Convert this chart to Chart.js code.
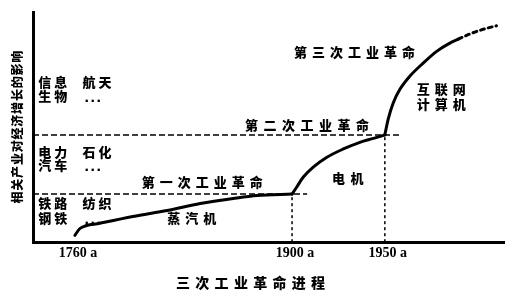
<!DOCTYPE html>
<html>
<head>
<meta charset="utf-8">
<script src="https://cdn.jsdelivr.net/npm/chart.js@4"></script>
<style>
  body { margin: 0; background: #fff; }
  #wrap { width: 514px; height: 299px; position: relative; }
</style>
</head>
<body>
<div id="wrap"><canvas id="chart"></canvas></div>
<script>
// x is a schematic "progress" axis (0-100), y is influence (0-100)
const tickLabels = ['1760 a', '1900 a', '1950 a'];
const tickPos = [8.9, 55.0, 74.7];

// steam engine era
const steamX = [8.9, 10.0, 14.2, 21.2, 28.5, 35.5, 42.5, 47.6, 55.0];
const steamY = [3.0, 6.0, 8.2, 11.2, 13.8, 16.8, 19.0, 20.3, 20.9];
// electric era
const electricX = [55.0, 56.0, 57.4, 59.5, 62.4, 65.9, 69.4, 72.3, 74.7];
const electricY = [20.9, 24.0, 28.3, 32.6, 36.9, 40.5, 43.4, 45.1, 46.6];
// information era
const infoX = [74.7, 75.4, 76.5, 77.9, 80.0, 82.9, 85.7, 88.5, 90.3];
const infoY = [46.6, 53.4, 60.6, 66.4, 72.1, 77.9, 82.9, 86.5, 88.2];
// future (dotted)
const futureX = [90.3, 92.8, 95.6, 98.4];
const futureY = [88.2, 90.5, 92.5, 94.0];

// levels reached at 1900 and 1950, and how far the dashed guide runs
const levelY = [20.9, 46.6];
const levelEndX = [58.2, 78.3];

const xTitle = '三次工业革命进程';
const yTitle = '相关产业对经济增长的影响';

const toPts = (xs, ys) => xs.map((x, i) => ({ x: x, y: ys[i] }));

function curve(xs, ys, dash) {
  return { data: toPts(xs, ys), borderColor: '#000', borderWidth: 3, borderDash: dash || [],
    pointRadius: 0, tension: 0.4, cubicInterpolationMode: 'monotone', borderCapStyle: 'round' };
}
function guide(pts, dash) {
  return { data: pts, borderColor: '#000', borderWidth: 1.5, borderDash: dash, pointRadius: 0, tension: 0 };
}

// text notes: [text, left x in data units, center y in data units, char pitch]
const notes = [
  ['信息', 1.1, 69.4, 16], ['航天', 10.5, 69.4, 16],
  ['生物', 1.1, 63.4, 16], ['...', 10.9, 62.5, 6],
  ['电力', 1.1, 39.2, 16], ['石化', 10.5, 39.2, 16],
  ['汽车', 1.1, 33.6, 16], ['...', 10.9, 32.3, 6],
  ['铁路', 1.1, 16.8, 16], ['纺织', 10.5, 16.8, 16],
  ['钢铁', 1.1, 10.3, 16], ['...', 10.9, 9.5, 6],
  ['第一次工业革命', 23.1, 26.3, 18],
  ['蒸汽机', 28.5, 10.3, 18],
  ['电机', 63.5, 28.0, 18.5],
  ['第二次工业革命', 45.0, 50.9, 18.5],
  ['第三次工业革命', 55.4, 82.8, 18],
  ['互联网', 81.5, 66.4, 18],
  ['计算机', 81.5, 59.9, 18]
];

function spaced(ctx, text, x, y, pitch) {
  for (let i = 0; i < text.length; i++) ctx.fillText(text[i], x + i * pitch, y);
}

const cjk = '"Noto Sans CJK SC"';

const textPlugin = {
  id: 'texts',
  afterDraw(chart) {
    const ctx = chart.ctx, xs = chart.scales.x, ys = chart.scales.y;
    ctx.save();
    ctx.fillStyle = '#000';
    ctx.textAlign = 'left';
    ctx.textBaseline = 'middle';
    notes.forEach(n => {
      ctx.font = n[0] === '...' ? 'bold 13px "DejaVu Sans"' : '900 13px ' + cjk;
      spaced(ctx, n[0], xs.getPixelForValue(n[1]), ys.getPixelForValue(n[2]), n[3]);
    });
    // x title
    ctx.font = '900 14px ' + cjk;
    spaced(ctx, xTitle, 176, 283, 19.3);
    // y title, reading bottom to top
    ctx.font = '900 12px ' + cjk;
    ctx.translate(17, (chart.chartArea.top + chart.chartArea.bottom) / 2);
    ctx.rotate(-Math.PI / 2);
    ctx.textAlign = 'center';
    const pitch = 12.8;
    for (let i = 0; i < yTitle.length; i++) {
      ctx.fillText(yTitle[i], (i - (yTitle.length - 1) / 2) * pitch, 0);
    }
    ctx.restore();
  }
};

new Chart(document.getElementById('chart'), {
  type: 'line',
  data: {
    datasets: [
      curve(steamX, steamY),
      curve(electricX, electricY),
      curve(infoX, infoY),
      curve(futureX, futureY, [4, 4]),
      guide([{ x: 0, y: levelY[0] }, { x: levelEndX[0], y: levelY[0] }], [6, 3]),
      guide([{ x: 0, y: levelY[1] }, { x: levelEndX[1], y: levelY[1] }], [6, 3]),
      guide([{ x: tickPos[1], y: 0 }, { x: tickPos[1], y: levelY[0] }], [3, 3]),
      guide([{ x: tickPos[2], y: 0 }, { x: tickPos[2], y: levelY[1] }], [3, 3])
    ]
  },
  options: {
    responsive: true,
    maintainAspectRatio: false,
    animation: false,
    layout: { padding: { left: 33, top: 12, right: 10, bottom: 34 } },
    plugins: { legend: { display: false }, tooltip: { enabled: false } },
    scales: {
      x: {
        type: 'linear', min: 0, max: 100,
        afterBuildTicks: s => { s.ticks = tickPos.map(v => ({ value: v })); },
        ticks: { autoSkip: false, maxRotation: 0, padding: 3, labelOffset: 3, color: '#000',
          font: { family: 'Liberation Serif', weight: 'bold', size: 14 },
          callback: (v, i) => tickLabels[i] },
        grid: { display: false, drawTicks: false },
        border: { color: '#000', width: 3 }
      },
      y: {
        min: 0, max: 100,
        ticks: { display: false },
        grid: { display: false, drawTicks: false },
        border: { color: '#000', width: 3 }
      }
    }
  },
  plugins: [textPlugin]
});
</script>
</body>
</html>
